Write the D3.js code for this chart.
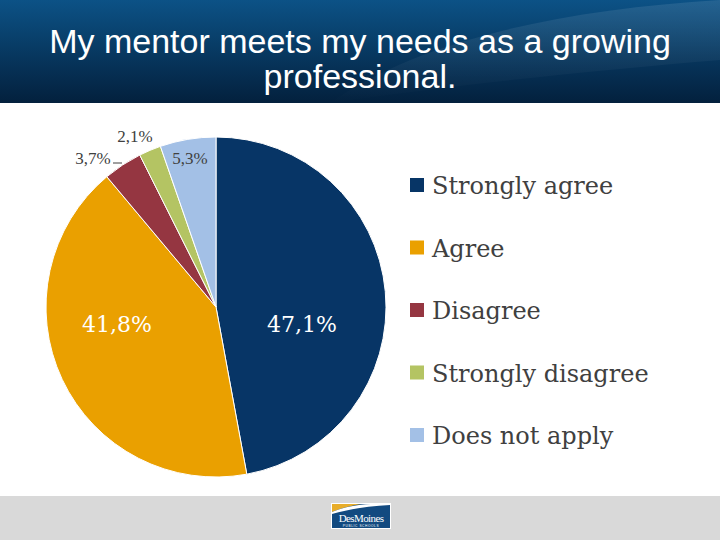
<!DOCTYPE html>
<html><head><meta charset="utf-8">
<script src="https://cdn.jsdelivr.net/npm/d3@7"></script>
<style>html,body{margin:0;padding:0;background:#fff;}svg{display:block;}</style>
</head><body>
<script>
const titleLines = ["My mentor meets my needs as a growing", "professional."];
const categories = ["Strongly agree", "Agree", "Disagree", "Strongly disagree", "Does not apply"];
const values = [47.1, 41.8, 3.7, 2.1, 5.3];
const labels = ["47,1%", "41,8%", "3,7%", "2,1%", "5,3%"];
const colors = ["#073566", "#eaa000", "#953641", "#b4c463", "#a3c0e6"];

const W = 720, H = 540;
const svg = d3.select("body").append("svg").attr("width", W).attr("height", H);
const defs = svg.append("defs");
const g1 = defs.append("linearGradient").attr("id","hdr").attr("x1",0).attr("y1",0).attr("x2",0).attr("y2",1);
g1.append("stop").attr("offset","0%").attr("stop-color","#0c5286");
g1.append("stop").attr("offset","100%").attr("stop-color","#03203d");
svg.append("rect").attr("x",0).attr("y",0).attr("width",W).attr("height",103).attr("fill","url(#hdr)");
const g2 = defs.append("linearGradient").attr("id","streak").attr("x1",0).attr("y1",0).attr("x2",0).attr("y2",1);
g2.append("stop").attr("offset","0%").attr("stop-color","#ffffff").attr("stop-opacity",0.10);
g2.append("stop").attr("offset","100%").attr("stop-color","#ffffff").attr("stop-opacity",0);
svg.append("path").attr("d","M330,103 C420,40 560,10 720,0 L720,60 C600,70 450,85 330,103 Z").attr("fill","url(#streak)");

svg.append("g").selectAll("text").data(titleLines).join("text")
  .attr("x", 360).attr("y",(d,i)=>53+i*35)
  .attr("text-anchor","middle").attr("fill","#fff")
  .attr("font-family","'Liberation Sans', Arial, sans-serif").attr("font-size",34)
  .text(d=>d);

// footer
svg.append("rect").attr("x",0).attr("y",496).attr("width",W).attr("height",44).attr("fill","#d9d9d9");
const logo = svg.append("g").attr("transform","translate(331,503)");
logo.append("rect").attr("width",60).attr("height",26).attr("fill","#fff");
logo.append("rect").attr("x",1).attr("y",1).attr("width",58).attr("height",24).attr("fill","#124a80");
logo.append("path").attr("d","M1,1 L30,1 C18,3 8,6 1,9 Z").attr("fill","#e8ad2a");
logo.append("path").attr("d","M1,9 C10,5 22,2 40,1 L59,1 L59,2 C38,3 18,6 1,11 Z").attr("fill","#fff");
logo.append("text").attr("x",30).attr("y",19).attr("text-anchor","middle").attr("fill","#fff")
  .attr("font-family","'Liberation Serif', serif").attr("font-size",11).attr("letter-spacing",-0.6).text("DesMoines");
logo.append("text").attr("x",30).attr("y",24).attr("text-anchor","middle").attr("fill","#fff")
  .attr("font-family","'Liberation Sans', sans-serif").attr("font-size",3.2).attr("letter-spacing",0.6).text("PUBLIC SCHOOLS");

// pie
const cx = 216, cy = 307, R = 170;
const pie = d3.pie().sort(null).value(d=>d)(values);
const arc = d3.arc().innerRadius(0).outerRadius(R);
const pg = svg.append("g").attr("transform",`translate(${cx},${cy})`);
pg.selectAll("path").data(pie).join("path")
  .attr("d",arc).attr("fill",(d,i)=>colors[i]).attr("stroke","#fff").attr("stroke-width",1);

const serif = "'Liberation Serif', 'Times New Roman', serif";
const serif2 = "'DejaVu Serif', serif";
// inside labels
const inside = [{i:0,x:302,y:332},{i:1,x:117,y:332}];
svg.append("g").selectAll("text").data(inside).join("text")
  .attr("x",d=>d.x).attr("y",d=>d.y).attr("text-anchor","middle").attr("fill","#fff")
  .attr("font-family",serif2).attr("font-size",22).text(d=>labels[d.i]);
// outside labels
const outside = [{i:2,x:93,y:164},{i:3,x:135,y:142},{i:4,x:190,y:164}];
svg.append("g").selectAll("text").data(outside).join("text")
  .attr("x",d=>d.x).attr("y",d=>d.y).attr("text-anchor","middle").attr("fill","#404040")
  .attr("font-family",serif).attr("font-size",17).text(d=>labels[d.i]);
svg.append("line").attr("x1",113).attr("y1",163).attr("x2",122).attr("y2",163).attr("stroke","#404040").attr("stroke-width",1);

// legend
const lg = svg.append("g");
const items = lg.selectAll("g").data(categories).join("g")
  .attr("transform",(d,i)=>`translate(410,${185+i*62.5})`);
items.append("rect").attr("x",0).attr("y",-7).attr("width",14).attr("height",14).attr("fill",(d,i)=>colors[i]);
items.append("text").attr("x",22).attr("y",9).attr("fill","#404040")
  .attr("font-family",serif2).attr("font-size",24).text(d=>d);
</script>
</body></html>
